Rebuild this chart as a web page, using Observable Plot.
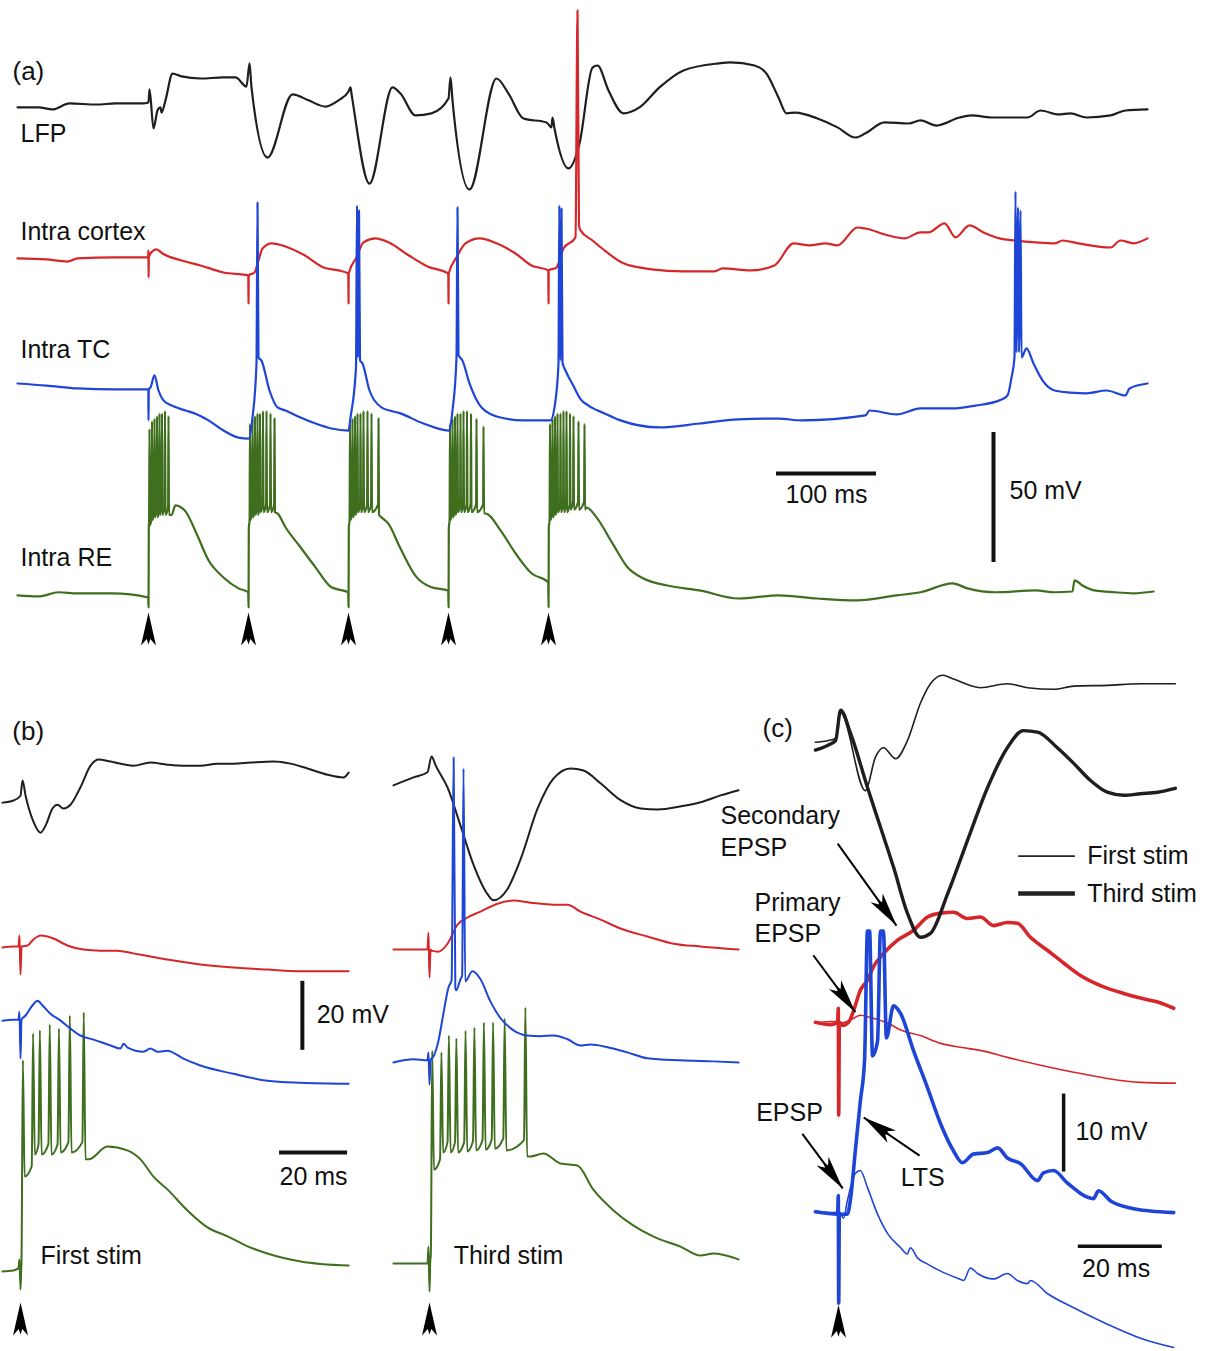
<!DOCTYPE html>
<html>
<head>
<meta charset="utf-8">
<title>Thalamocortical responses to 10 Hz stimulation</title>
<script src="https://cdn.jsdelivr.net/npm/d3@7"></script>
<script src="https://cdn.jsdelivr.net/npm/@observablehq/plot@0.6"></script>
<style>
  html, body { margin: 0; padding: 0; background: #fff; }
  #fig { position: relative; width: 1215px; height: 1351px; overflow: hidden; background: #fff; }
  #fig svg { position: absolute; left: 0; top: 0; background: transparent; }
</style>
</head>
<body>
<div id="fig"></div>
<script>
// ===================== DATA (time in ms from stimulus, voltage in mV from each trace's resting level) =====================

// ---- Panel (a): five stimuli at 10 Hz
const stimA = [0, 100, 200, 300, 400];
const lfpA = [[-131,-1.5],[-110,-1.5],[-96,-2.3],[-79,0],[-52,-0.4],[-33,0],[-6,0],[0,0.4],[1,5.4],[5,-9.6],[9,-2.7],[12,-1.5],[13,-3.5],[17,1.2],[24,11.5],[33,10.4],[52,9.6],[75,10],[87,10],[98,6.5],[101,15.4],[103,6.2],[119,-20.8],[144,3.5],[160,1.2],[177,-1.2],[190,1.2],[200,4.6],[202,6.2],[203,3.8],[221,-30.8],[244,6.2],[252,3.8],[267,-4.6],[283,-3.8],[300,1.9],[302,10],[304,1.2],[321,-33.1],[348,9.6],[360,3.8],[375,-5.8],[398,-7.3],[403,-9.2],[404,-5.4],[406,-9.6],[420,-25],[431,-15.4],[444,13.8],[449,14.6],[460,5],[475,-3.8],[491,-1.5],[511,6.2],[535,12.7],[570,15.4],[582,15.8],[606,14.6],[618,11.5],[630,2.3],[638,-3.8],[647,-3.5],[669,-5.8],[689,-9.2],[707,-13.1],[717,-11.5],[736,-7.3],[760,-7.7],[772,-6.5],[788,-8.5],[811,-5.4],[823,-4.6],[843,-5.4],[867,-5.4],[879,-5.4],[892,-2.7],[910,-4.2],[922,-3.8],[938,-5.4],[962,-4.6],[977,-2.7],[999,-2.3]];
const ctxA = [[-131,0],[-102,-0.4],[-81,-1.2],[-71,0],[-33,0.4],[-2,0.4],[-0.3,0.4],[-0.1,3.1],[0.1,-7.3],[0.3,0.4],[2,1.9],[8,3.5],[14,1.9],[33,-0.8],[52,-2.7],[75,-5.4],[99.8,-6.5],[100,-17.3],[100.2,-6.5],[106,-5.4],[110,-0.8],[114,3.8],[123,5.8],[137,4.6],[156,1.2],[175,-3.5],[190,-4.6],[199.8,-5.8],[200,-17.3],[200.2,-5.8],[208,0.4],[215,6.2],[227,7.7],[240,6.2],[260,1.2],[279,-3.1],[299.8,-5.8],[300,-17.3],[300.2,-5.8],[308,0.4],[317,5.8],[331,7.7],[348,5.8],[367,1.9],[383,-2.7],[399.8,-4.6],[400,-17.3],[400.2,-4.6],[408,-3.5],[415,3.8],[427,8.1],[429,95.4],[430.5,12.7],[432,10.8],[444,6.9],[456,3.1],[475,-1.9],[503,-4.2],[535,-5],[566,-5],[574,-3.8],[602,-4.6],[626,-2.7],[645,5.8],[661,5],[677,5.8],[689,5],[709,11.9],[717,11.5],[740,8.8],[756,7.7],[772,10],[780,10],[796,13.5],[807,8.1],[821,12.7],[835,10],[851,7.7],[867,6.9],[887,6.2],[906,5.8],[914,6.9],[930,5.8],[962,4.2],[972,6.9],[985,5.8],[999,7.7]];
const tcA = [[-131,0],[-102,-0.8],[-71,-1.9],[-33,-2.3],[-2,-2.3],[-0.2,-2.3],[0,-14.2],[0.3,-2.3],[2,-1.5],[6,3.1],[10,-2.7],[15,-6.5],[25,-8.8],[37,-10.4],[44,-11.2],[60,-14.2],[75,-18.1],[90,-20.8],[100,-21.2],[104,-13.1],[108,7.7],[109,69.6],[110,10],[113,8.8],[121,-2.7],[129,-9.2],[137,-10.4],[152,-13.1],[167,-15.4],[183,-17.3],[200,-18.1],[202,-13.1],[207.5,6.2],[208.5,68.5],[209.3,10],[210.5,66.5],[211.5,9],[214,7.7],[221,-2.7],[233,-9.2],[252,-11.5],[275,-15.4],[300,-18.1],[304,-10.4],[308,10],[309,67.7],[310,11],[314,8.8],[321,0],[333,-9.2],[352,-13.1],[375,-14.2],[402,-14.2],[406,-9.2],[410,7.7],[410.8,68.5],[411.8,9],[413,67.3],[414,8],[417,5],[425,-1],[432,-6],[440,-8.5],[456,-11.5],[472,-14.2],[511,-16.9],[551,-15.4],[590,-13.8],[630,-13.5],[653,-14.2],[717,-12.3],[721,-10.4],[748,-11.9],[772,-9.6],[804,-9.6],[827,-8.5],[851,-6.5],[859,-4.6],[863,2.3],[866,10],[867,73.8],[868,12],[869.5,67.7],[870.5,12],[872,66.5],[873,10],[878,13.5],[885,7.7],[894,1.2],[906,-2.7],[922,-3.5],[938,-3.8],[958,-2.7],[977,-4.6],[981,-1.9],[999,0]];
const rePreA = [[-131,0],[-110,-0.4],[-90,1.2],[-71,0.8],[-36,0.8],[-0.3,-0.8]];
const reArtifactA = -4.6, reOnsetA = 26;
// spikes per stimulus: [ms after stimulus, peak mV, following trough mV]
const reSpikesA = [
  [[1,64,27],[3.5,67,29],[6,68,30],[8.5,69,30],[11,70,31],[13.5,70,31],[16.5,71,31],[20,69,31]],
  [[1.5,66,29],[4,68,30],[6.5,69,31],[9,70,31],[11.5,70,32],[14.5,71,32],[18,71,32],[22,70,32],[26,68,32]],
  [[1.5,66,29],[4,68,30],[6.5,69,31],[9,70,32],[12,70,32],[15,71,32],[19,71,32],[23,70,32],[30,68,31]],
  [[1.5,66,29],[4,68,30],[6.5,69,31],[9,70,32],[12,70,32],[15,71,32],[18.5,71,32],[22.5,70,32],[28,68,32],[35,65,31.5]],
  [[1.5,66,29],[4,68,30],[6.5,69,31],[9,70,32],[12,70,32],[15,71,32],[18,71,32],[21.5,70,33],[25,69,33],[30,67,33],[36,66,33]]
];
const reTailsA = [
  [[23,31],[27,34.6],[32,34],[37,32.3],[48,23.8],[60,13.5],[75,6.9],[90,2.7],[99.7,1.2]],
  [[129,31.5],[137,26.2],[152,18.5],[167,10.8],[183,3.1],[199.7,1.2]],
  [[233,30],[240,27.5],[252,18],[267,7.5],[283,3.1],[299.7,1.9]],
  [[337,31.5],[352,25],[367,16.2],[383,8.5],[399.7,5]],
  [[438,33.8],[448,30],[464,20],[479,10.8],[495,6.5],[519,3.8],[551,1.9],[590,-1.2],[630,0],[669,-1.2],[709,-1.9],[748,0],[772,1.2],[804,4.6],[819,2.7],[847,1.2],[887,1.9],[906,1.2],[924,1.5],[926,5.8],[934,3.8],[946,1.9],[966,1.2],[985,0.8],[1005,1.5]]
];

// ---- Panel (b): first stimulus
const lfpB1 = [[-5.3,-0.6],[-2.1,0],[0,1.4],[0.6,5.8],[1.5,1.4],[3.8,-6.1],[5.9,-9.3],[7.4,-7.2],[9.4,-2.3],[10.9,-1.2],[12.6,-2.3],[14.7,-1.2],[17.6,3.8],[20.6,10.1],[22.9,11.9],[26.5,11.3],[33.2,10.1],[38.2,11],[43.2,10.4],[47.9,10.1],[52.9,10.1],[57.9,10.7],[62.6,10.7],[67.6,11],[74.4,11.3],[79.4,10.7],[84.4,9.3],[90.3,7.5],[95,6.7],[96.5,8.1]];
const ctxB1 = [[-5.3,-0.3],[-2.1,0],[-0.6,0],[-0.3,3.2],[0,-8.1],[0.3,0],[2.1,0.3],[3.8,2],[5.9,3.2],[7.9,2.9],[9.7,2.3],[13.8,0.3],[18.5,-0.9],[23.5,-1.2],[28.5,-1.2],[33.2,-2],[38.2,-2.9],[43.2,-3.8],[52.9,-5.2],[62.6,-6.1],[72.6,-6.7],[82.4,-7.2],[96.5,-7.2]];
const tcB1 = [[-5.3,-0.3],[-2.1,0],[-0.6,0],[-0.3,2.3],[0,-11.3],[0.3,0],[1.5,1.2],[3.5,4.1],[5,5.5],[6.5,4.1],[8.8,1.7],[11.8,-0.3],[14.7,-2.6],[17.6,-4.6],[21.5,-5.8],[26.5,-7.5],[29.4,-8.4],[30.3,-7],[31.5,-8.1],[36.2,-9.3],[38.2,-8.4],[40.3,-9.3],[43.2,-9],[47.9,-11.3],[52.9,-13.3],[62.6,-15.7],[72.6,-17.7],[82.4,-18.3],[96.5,-18.6]];
const rePreB1 = [[-5.3,-0.3],[-2.1,0],[-0.6,0.6],[-0.3,3.2],[0,-5.5],[0.2,0]];
const reSpikesB1 = [[0.7,60.9,27.2],[3.7,68.7,33.6],[5.7,69.6,33.6],[8.6,71.3,33.6],[11.3,70.1,34.2],[14.5,73.9,34.2],[18.6,74.8,32.2]];
const reTailB1 = [[20.1,32.2],[25.5,35.9],[31.4,34.8],[35.3,32.2],[39.1,27.2],[43.2,23.5],[49.1,17.4],[55,12.5],[60.9,9.9],[66.8,7],[72.6,4.9],[82.4,2.6],[96.5,1.4]];

// ---- Panel (b): third stimulus
const lfpB3 = [[-10.6,0],[-4.7,2.3],[-0.6,3.8],[0.6,8.4],[1.8,5.8],[5.3,-0.6],[9.1,-11.6],[12.9,-22.9],[17.1,-31.6],[18.8,-33.3],[22.9,-30.1],[26.8,-21.4],[31.8,-6.7],[36.5,2],[41.5,4.9],[45.3,4.3],[50.3,0.6],[56.2,-4.3],[62.1,-6.7],[67.1,-7],[73.8,-6.1],[79.7,-4.9],[85.6,-2.9],[90.9,-1.4]];
const ctxB3 = [[-10.6,0],[-0.6,0],[-0.3,4.9],[0,-8.1],[0.3,0],[0.6,-0.3],[2.6,-0.6],[5.3,1.7],[8.2,7.2],[11.2,9.3],[15,11],[20,13.3],[24.7,14.2],[29.7,13.6],[36.5,13],[40.6,13],[44.4,11],[50.3,8.7],[56.2,6.1],[64.1,3.8],[71.8,1.7],[79.7,0.9],[90.9,0]];
const tcB3 = [[-10.6,-0.6],[-4.7,0.3],[-0.6,0],[-0.3,2.3],[0,-7],[0.3,0],[1.2,1.2],[2.6,5.5],[4.1,13.6],[5.6,21.2],[6.5,23.2],[7.1,87.8],[7.6,20.9],[7.9,20.3],[9.1,23.5],[9.6,24.6],[10,84.6],[10.5,22.9],[12.6,25.8],[15,23.5],[17.9,17.1],[20.9,12.2],[24.7,8.7],[28.8,7.2],[32.6,7],[36.5,7.2],[40.6,6.1],[44.4,4.3],[47.4,4.6],[52.4,3.8],[58.2,2.3],[64.1,0.6],[73.8,0],[83.5,-0.3],[90.9,-0.6]];
const rePreB3 = [[-10.6,0],[-0.6,0],[-0.3,4.9],[0,-8.1],[0.2,0]];
const reSpikesB3 = [[0.8,61.7,27.2],[3.5,61.2,32.2],[5.7,66.1,32.2],[7.9,65.2,32.2],[10.6,67.5,32.5],[13.2,68.4,32.8],[16,69.9,33],[18.7,69.9,33.3],[22.1,71,32.8],[28.2,74.2,31]];
const reTailB3 = [[29.7,31],[33.5,31.9],[38.5,29],[43.5,28.4],[48.2,21.4],[54.1,15.4],[60,11],[65.9,7.8],[73.8,4.9],[79.7,2.3],[83.5,2.9],[90.9,1.2]];

// ---- Panel (c): first stim (thin) vs third stim (thick)
const lfpC1 = [[-5.5,0.4],[-2.6,0.6],[-0.7,0.9],[0.5,4.2],[6.4,-5.8],[8.8,-1.5],[10.7,-0.3],[13.6,-1.7],[16.4,0.6],[19.5,5.4],[21.9,7.9],[24.8,9],[27.4,8.5],[33.8,7.4],[40.2,7.9],[45,7.4],[51.2,7.2],[56,7.6],[64,7.7],[71.9,7.9],[80.2,7.9]];
const lfpC3 = [[-5.5,-0.6],[-2.6,0],[-0.7,0.6],[0.5,4.5],[2.9,1.5],[6.9,-5.4],[10,-10.5],[13.1,-15.6],[16.4,-21.5],[19.5,-24.6],[21.9,-24.1],[26,-19],[30.7,-12.2],[35.5,-5.4],[40.2,-0.3],[44,1.9],[47.4,1.7],[52.1,-0.3],[56,-2.3],[60,-4.5],[64,-6],[67.9,-6.4],[71.9,-6.2],[76,-6],[80.2,-5.5]];
const ctxC1 = [[-5.5,-0.1],[-1.9,0.1],[-0.2,0.1],[-0.05,1.8],[0.05,-11.9],[0.2,0.1],[0.5,-0.1],[2.9,0.3],[5.2,0.9],[7.6,0.6],[11.7,-0.1],[14.8,-1],[19.5,-1.7],[24.3,-2.7],[29,-3.2],[33.8,-3.6],[40.2,-4.5],[48.1,-5.5],[56,-6.4],[64,-7.2],[71.9,-7.7],[80.2,-7.8]];
const ctxC3 = [[-5.5,0],[-1.9,-0.3],[-0.2,0],[-0.05,1.8],[0.05,-11.9],[0.2,0],[1,-0.4],[2.4,0],[3.6,1.5],[5.2,4.1],[6.9,5.4],[8.3,7.1],[10.7,8.8],[14,10.5],[17.9,11.8],[21.2,13.5],[24.3,14],[27.4,14.1],[30.7,13.3],[33.8,13.5],[36.9,12.4],[40.2,12.8],[42.6,12.7],[45.7,10.9],[49.8,9.2],[53.6,7.6],[57.6,6],[62.4,4.7],[67.9,3.7],[71.9,3.1],[76,2.6],[79.8,1.8]];
const tcC1 = [[-5.5,0.1],[-1.2,-0.1],[-0.2,0],[-0.05,2.1],[0.05,-11.7],[0.2,0],[1.2,-0.8],[2.1,1.4],[4,4.9],[5.2,5.3],[6.9,3.1],[9.3,-0.3],[11.7,-2.8],[14.8,-4.6],[16.4,-5.4],[17.1,-4.6],[18.8,-5.9],[21.2,-6.7],[24.3,-7.6],[28.3,-8.5],[29.8,-8.8],[31.4,-7.2],[33.1,-7.9],[36.9,-8.6],[40.2,-7.9],[42.6,-8.8],[45,-9.2],[45.7,-8.8],[49.8,-10.5],[56,-12.3],[64,-14.4],[71.9,-16.2],[79.8,-17.4]];
const tcC3 = [[-5.5,0],[-0.2,-0.3],[-0.05,2.1],[0.05,-11.7],[0.2,-0.3],[2.1,-0.3],[2.9,1.8],[4,7.8],[5.2,14.2],[6.2,19.4],[6.9,36],[7.4,36],[8.1,20],[9.3,21.9],[10,36],[10.7,36],[11.4,22.3],[13.1,26.4],[14.8,25.4],[17.9,20.6],[21.2,15.9],[24.3,11.3],[27.4,7.8],[29.5,6.3],[32.1,7.4],[35.5,7.6],[37.9,8.2],[40.2,6.9],[43.3,6.2],[47.4,4],[48.8,5],[51.2,5.3],[54.5,3.7],[60.7,1.7],[61.9,2.7],[64.8,1.4],[69.5,0.5],[74.3,0.1],[79.8,-0.1]];

// ---- Scale bars
const barsA = { ms: 100, mV: 50 };
const barsB = { ms: 20, mV: 20 };
const barsC = { ms: 20, mV: 10 };

// ===================== LAYOUT (panel placement, in each panel's ms / mV units) =====================
const W = 1215, H = 1351;
const FONT = "'Liberation Sans', Arial, Helvetica, sans-serif";
const COL = { lfp: "#1e1e1e", ctx: "#d5262a", tc: "#1f45d6", re: "#3f6f1e", ink: "#111" };

const PA = { x0: 148, kx: 1.0, ky: 2.6, off: { lfp: -39.6, ctx: -99.2, tc: -147.3, re: -228.8 } };
const PB1 = { x0: 20, kx: 3.4, ky: 3.45, off: { lfp: -231.9, ctx: -274.2, tc: -295.4, re: -368.1 } };
const PB3 = { x0: 429, kx: 3.4, ky: 3.45, off: { lfp: -227.5, ctx: -275.1, tc: -307.2, re: -366.1 } };
const PC = { x0: 838, kx: 4.2, ky: 7.8, off: { lfp: -95.5, ctx: -131.0, tc: -155.3 } };

// ===================== HELPERS =====================
function spikeTrain(spikes, start) {
  const out = []; let prev = start;
  for (const [t, top, trough] of spikes) { out.push([t - 0.4, prev + 3], [t, top], [t + 0.5, trough]); prev = trough; }
  return out;
}
function headSymbol(len, wid, deg) {
  const a = deg * Math.PI / 180, c = Math.cos(a), s = Math.sin(a);
  const P = [[0, 0], [wid / 2, len], [wid * 0.12, len * 0.8], [0, len * 0.97], [-wid * 0.12, len * 0.8], [-wid / 2, len]];
  const R = P.map(([x, y]) => [x * c - y * s, x * s + y * c]);
  return { draw(ctx) { ctx.moveTo(R[0][0], R[0][1]); for (let i = 1; i < R.length; i++) ctx.lineTo(R[i][0], R[i][1]); ctx.closePath(); } };
}
const trace = (pts, off, stroke, sw) => Plot.line(pts, {
  x: d => d[0], y: d => d[1] + off, stroke, strokeWidth: sw,
  curve: "monotone-x", strokeLinejoin: "round", strokeLinecap: "round"
});
const labels = (rows, size, anchor = "start") => Plot.text(rows, {
  x: "t", y: "v", text: "s", textAnchor: anchor, fontSize: size, fontFamily: FONT, fill: COL.ink
});
function scaleBars(b, pos) {
  return [
    Plot.ruleY([b], { y: () => pos.hv, x1: () => pos.ht, x2: d => pos.ht + d.ms, stroke: COL.ink, strokeWidth: pos.sw }),
    Plot.ruleX([b], { x: () => pos.vt, y1: () => pos.vv, y2: d => pos.vv - d.mV, stroke: COL.ink, strokeWidth: pos.sw }),
    Plot.text([b], { x: d => pos.ht + d.ms / 2 + (pos.hdx || 0), y: () => pos.htv, text: d => `${d.ms} ms`, textAnchor: "middle", fontSize: 25, fontFamily: FONT, fill: COL.ink }),
    Plot.text([b], { x: () => pos.vtt, y: () => pos.vtv, text: d => `${d.mV} mV`, textAnchor: "start", fontSize: 25, fontFamily: FONT, fill: COL.ink })
  ];
}
const stimHeads = (stims, tipV) => Plot.dot(stims, { x: d => d, y: () => tipV, symbol: headSymbol(33, 15, 0), fill: "#000", stroke: "none", r: 10 });

function layer(P, marks) {
  const svg = Plot.plot({
    width: W, height: H, margin: 0,
    x: { domain: [-P.x0 / P.kx, (W - P.x0) / P.kx], axis: null },
    y: { domain: [-H / P.ky, 0], axis: null },
    style: { background: "transparent", fontFamily: FONT, overflow: "visible" },
    marks
  });
  document.getElementById("fig").appendChild(svg);
}

// ===================== BUILD =====================
// Panel (a) RE trace assembled from bursts
const reA = [...rePreA];
stimA.forEach((s, k) => {
  reA.push([s + 0.05, reArtifactA], [s + 0.3, reOnsetA]);
  reA.push(...spikeTrain(reSpikesA[k].map(([dt, top, tr]) => [s + dt, top, tr]), reOnsetA));
  reA.push(...reTailsA[k]);
});
const reB1 = [...rePreB1, ...spikeTrain(reSpikesB1, 0), ...reTailB1];
const reB3 = [...rePreB3, ...spikeTrain(reSpikesB3, 0), ...reTailB3];

// ---- Panel (a)
layer(PA, [
  trace(lfpA, PA.off.lfp, COL.lfp, 2.2),
  trace(reA, PA.off.re, COL.re, 2.2),
  trace(ctxA, PA.off.ctx, COL.ctx, 2.2),
  trace(tcA, PA.off.tc, COL.tc, 2.2),
  labels([{ s: "(a)", t: -136, v: -27.5 }], 26),
  labels([
    { s: "LFP", t: -128, v: -51.5 },
    { s: "Intra cortex", t: -128, v: -89.2 },
    { s: "Intra TC", t: -128, v: -134.6 },
    { s: "Intra RE", t: -128, v: -214.6 }
  ], 25),
  ...scaleBars(barsA, { ht: 628, hv: -181.9, htv: -190, vt: 845, vv: -166.2, vtt: 861, vtv: -188.8, sw: 4 }),
  stimHeads(stimA, -235.4)
]);

// ---- Panel (b), first stim
layer(PB1, [
  trace(lfpB1, PB1.off.lfp, COL.lfp, 2),
  trace(ctxB1, PB1.off.ctx, COL.ctx, 2),
  trace(reB1, PB1.off.re, COL.re, 2),
  trace(tcB1, PB1.off.tc, COL.tc, 2),
  labels([{ s: "(b)", t: -2.4, v: -211.9 }], 26),
  labels([{ s: "First stim", t: 5.9, v: -363.8 }], 25),
  ...scaleBars(barsB, { ht: 76.2, hv: -333.9, htv: -340.9, vt: 82.9, vv: -284.3, vtt: 87.1, vtv: -294.2, sw: 4 }),
  stimHeads([0], -377.4)
]);

// ---- Panel (b), third stim
layer(PB3, [
  trace(lfpB3, PB3.off.lfp, COL.lfp, 2),
  trace(ctxB3, PB3.off.ctx, COL.ctx, 2),
  trace(reB3, PB3.off.re, COL.re, 2),
  trace(tcB3, PB3.off.tc, COL.tc, 2),
  labels([{ s: "Third stim", t: 7.1, v: -363.8 }], 25),
  stimHeads([0], -377.4)
]);

// ---- Panel (c)
const arrowsC = [
  { t1: -0.2, v1: -108.1, t2: 13.8, v2: -118.6 },   // Secondary EPSP
  { t1: -6.0, v1: -122.4, t2: 4.0, v2: -129.7 },    // Primary EPSP
  { t1: -8.6, v1: -145.3, t2: 1.0, v2: -152.3 },    // EPSP
  { t1: 19.3, v1: -148.1, t2: 6.0, v2: -143.2 }     // LTS
];
const arrowHeadsC = arrowsC.map(a => {
  const dx = (a.t2 - a.t1) * PC.kx, dy = -(a.v2 - a.v1) * PC.ky;
  const deg = Math.atan2(dx, -dy) * 180 / Math.PI;
  return Plot.dot([a], { x: "t2", y: "v2", symbol: headSymbol(34, 15, deg), fill: "#000", stroke: "none", r: 10 });
});
const legendC = [
  { s: "First stim", t1: 42.9, t2: 56.4, v: -109.7, w: 1.6 },
  { s: "Third stim", t1: 42.9, t2: 56.4, v: -114.5, w: 4.5 }
];
layer(PC, [
  trace(ctxC1, PC.off.ctx, COL.ctx, 1.6),
  trace(ctxC3, PC.off.ctx, COL.ctx, 3.6),
  trace(tcC1, PC.off.tc, COL.tc, 1.6),
  trace(tcC3, PC.off.tc, COL.tc, 3.6),
  trace(lfpC1, PC.off.lfp, COL.lfp, 1.6),
  trace(lfpC3, PC.off.lfp, COL.lfp, 3.4),
  Plot.link(arrowsC, { x1: "t1", y1: "v1", x2: "t2", y2: "v2", stroke: "#000", strokeWidth: 2 }),
  ...arrowHeadsC,
  Plot.ruleY(legendC, { y: "v", x1: "t1", x2: "t2", strokeWidth: "w", stroke: "#222" }),
  Plot.text(legendC, { x: d => d.t2 + 2.8, y: "v", text: "s", textAnchor: "start", fontSize: 25, fontFamily: FONT, fill: COL.ink }),
  labels([{ s: "(c)", t: -18.1, v: -93.3 }], 26),
  labels([
    { s: "Secondary", t: -28.1, v: -104.6 },
    { s: "EPSP", t: -28.1, v: -108.7 },
    { s: "Primary", t: -20.0, v: -115.7 },
    { s: "EPSP", t: -20.0, v: -119.7 },
    { s: "EPSP", t: -19.6, v: -142.6 },
    { s: "LTS", t: 14.8, v: -150.9 }
  ], 25),
  ...scaleBars(barsC, { ht: 57.1, hv: -159.7, htv: -162.6, hdx: -1, vt: 53.6, vv: -140.2, vtt: 56.4, vtv: -145.1, sw: 3.5 }),
  stimHeads([0], -167.2)
]);
</script>
</body>
</html>
